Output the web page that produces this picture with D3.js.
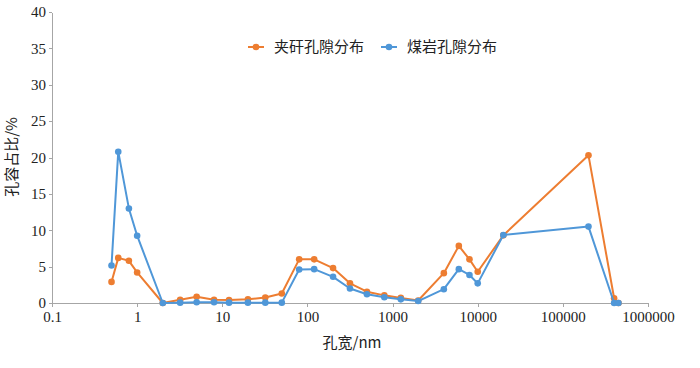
<!DOCTYPE html>
<html lang="zh">
  <head>
    <meta charset="UTF-8">
    <title>孔隙分布</title>
    <style>
      body { margin: 0; background: #fff; }
      .axis path, .axis line { stroke: #a6a6a6; stroke-width: 1; shape-rendering: crispEdges; }
      .axis text { fill: #222; }
      .label { fill: #222; font-size: 15px; font-family: "Noto Sans CJK SC", sans-serif; }
      .legend text { fill: #222; font-size: 15px; font-family: "Noto Sans CJK SC", sans-serif; }
    </style>
    <script src="https://d3js.org/d3.v7.min.js"></script>
  </head>
  <body>
    <script>
      // pore width in nm (log scale)
      const poreWidth = [0.5, 0.6, 0.8, 1, 2, 3.2, 5, 8, 12, 20, 32, 50, 80, 120, 200, 316, 500, 800,
        1250, 2000, 4000, 6000, 8000, 10000, 20000, 200000, 400000, 450000];

      const gangueValues = [2.9, 6.2, 5.8, 4.2, 0, 0.45, 0.85, 0.45, 0.4, 0.5, 0.75, 1.3, 6.0, 6.0,
        4.8, 2.7, 1.55, 1.05, 0.7, 0.35, 4.1, 7.85, 6.0, 4.3, 9.3, 20.3, 0.65, 0];

      const coalValues = [5.15, 20.8, 13.0, 9.25, 0, 0.05, 0.1, 0.1, 0.05, 0.05, 0.05, 0.05, 4.6, 4.65,
        3.6, 2.0, 1.2, 0.8, 0.5, 0.27, 1.9, 4.65, 3.85, 2.7, 9.35, 10.5, 0, 0];

      const seriesNames = ["夹矸孔隙分布", "煤岩孔隙分布"];
      const seriesColors = ["#ed7d31", "#4f97d8"];

      const xTicks = [0.1, 1, 10, 100, 1000, 10000, 100000, 1000000];
      const yTicks = [0, 5, 10, 15, 20, 25, 30, 35, 40];

      const width = 700;
      const height = 368;
      const margin = { top: 12, right: 52, bottom: 65, left: 52 };
      const numFont = "'Liberation Serif', 'Times New Roman', serif";

      const svg = d3.select("body")
        .append("svg")
        .attr("width", width)
        .attr("height", height);

      const x = d3.scaleLog()
        .domain([0.1, 1000000])
        .range([margin.left, width - margin.right]);

      const y = d3.scaleLinear()
        .domain([0, 40])
        .range([height - margin.bottom, margin.top]);

      svg.append("g")
        .attr("class", "axis axis-x")
        .attr("transform", `translate(0,${height - margin.bottom})`)
        .call(d3.axisBottom(x)
          .tickValues(xTicks)
          .tickFormat(d => d < 1 ? "0.1" : String(Math.round(d)))
          .tickSizeInner(4)
          .tickSizeOuter(0)
          .tickPadding(4))
        .attr("font-family", numFont)
        .attr("font-size", 15);

      svg.append("g")
        .attr("class", "axis axis-y")
        .attr("transform", `translate(${margin.left},0)`)
        .call(d3.axisLeft(y)
          .tickValues(yTicks)
          .tickSizeInner(3)
          .tickSizeOuter(0)
          .tickPadding(3))
        .attr("font-family", numFont)
        .attr("font-size", 15);

      // axis titles
      svg.append("text")
        .attr("class", "label")
        .attr("text-anchor", "middle")
        .attr("x", (margin.left + width - margin.right) / 2 + 2)
        .attr("y", 348)
        .text("孔宽/nm");

      svg.append("text")
        .attr("class", "label")
        .attr("text-anchor", "middle")
        .attr("transform", "rotate(-90)")
        .attr("x", -157)
        .attr("y", 17)
        .text("孔容占比/%");

      const series = [
        { name: seriesNames[0], color: seriesColors[0], values: gangueValues },
        { name: seriesNames[1], color: seriesColors[1], values: coalValues }
      ];

      const line = d3.line()
        .x(d => x(d[0]))
        .y(d => y(d[1]));

      series.forEach(s => {
        const pts = poreWidth.map((w, i) => [w, s.values[i]]);
        const g = svg.append("g");
        g.append("path")
          .datum(pts)
          .attr("fill", "none")
          .attr("stroke", s.color)
          .attr("stroke-width", 2)
          .attr("stroke-linejoin", "round")
          .attr("d", line);
        g.selectAll("circle")
          .data(pts)
          .enter()
          .append("circle")
          .attr("cx", d => x(d[0]))
          .attr("cy", d => y(d[1]))
          .attr("r", 3.3)
          .attr("fill", s.color);
      });

      // legend
      const legendX = [248, 381];
      const legend = svg.append("g").attr("class", "legend");
      series.forEach((s, i) => {
        const lg = legend.append("g").attr("transform", `translate(${legendX[i]},47)`);
        lg.append("line")
          .attr("x1", 0).attr("x2", 16)
          .attr("stroke", s.color)
          .attr("stroke-width", 2);
        lg.append("circle")
          .attr("cx", 8)
          .attr("r", 3.3)
          .attr("fill", s.color);
        lg.append("text")
          .attr("x", 26)
          .attr("dy", "0.35em")
          .text(s.name);
      });
    </script>
  </body>
</html>
